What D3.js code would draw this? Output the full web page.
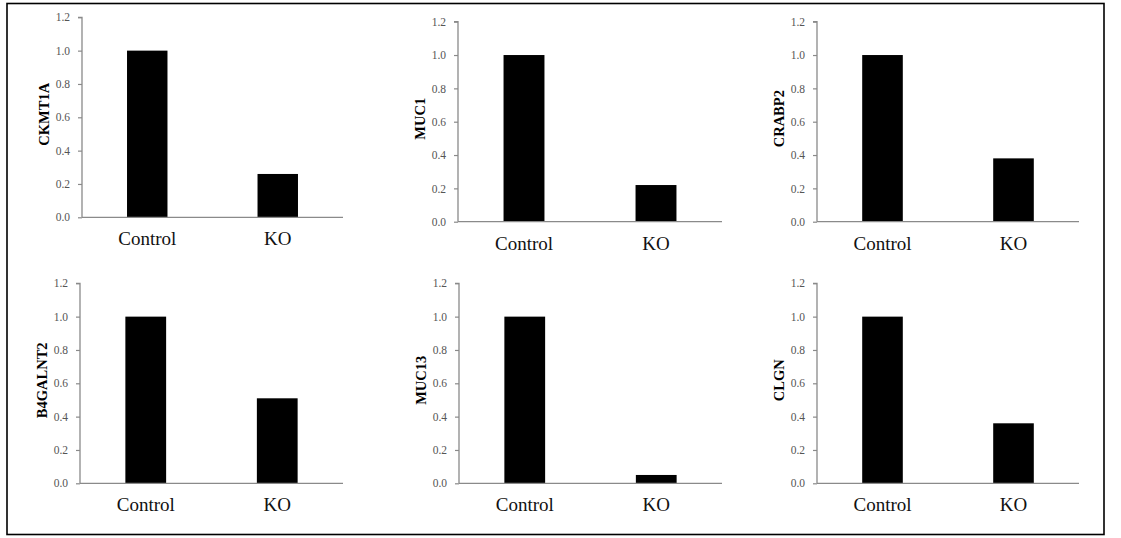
<!DOCTYPE html>
<html>
<head>
<meta charset="utf-8">
<script src="https://cdn.jsdelivr.net/npm/d3@7"></script>
<style>
  html, body { margin: 0; padding: 0; background: #fff; }
  svg { display: block; }
</style>
</head>
<body>
<svg id="chart" width="1121" height="538"></svg>
<script>
// ---- data ----
const genes = ["CKMT1A", "MUC1", "CRABP2", "B4GALNT2", "MUC13", "CLGN"];
const categories = ["Control", "KO"];
const controlValues = [1.0, 1.0, 1.0, 1.0, 1.0, 1.0];
const koValues = [0.26, 0.22, 0.38, 0.51, 0.05, 0.36];
const yTicks = [0.0, 0.2, 0.4, 0.6, 0.8, 1.0, 1.2];

// ---- layout (pixel geometry of each small panel) ----
const panelLayout = [
  { axisX: 82,  right: 343,  top: 17.3,  base: 217.3 },
  { axisX: 458, right: 722,  top: 21.7,  base: 221.7 },
  { axisX: 817, right: 1079, top: 21.7,  base: 221.7 },
  { axisX: 80,  right: 343,  top: 283.3, base: 483.3 },
  { axisX: 459, right: 722,  top: 283.3, base: 483.3 },
  { axisX: 817, right: 1079, top: 283.3, base: 483.3 }
];

const svg = d3.select("#chart");

// outer frame
svg.append("rect")
  .attr("x", 7).attr("y", 3.5)
  .attr("width", 1097).attr("height", 531)
  .attr("fill", "none").attr("stroke", "#000").attr("stroke-width", 1.6);

const serif = "'Liberation Serif', 'Times New Roman', Times, serif";
const axisColor = "#8a8a8a";

genes.forEach((gene, i) => {
  const L = panelLayout[i];
  const values = [controlValues[i], koValues[i]];
  const g = svg.append("g");

  const y = d3.scaleLinear().domain([0, 1.2]).range([L.base, L.top]);
  const x = d3.scaleBand().domain(categories)
    .range([L.axisX, L.right])
    .paddingInner(0.69).paddingOuter(0.345);

  // bars
  g.selectAll("rect.bar")
    .data(categories.map((c, k) => ({ c, v: values[k] })))
    .join("rect")
    .attr("class", "bar")
    .attr("x", d => x(d.c))
    .attr("width", x.bandwidth())
    .attr("y", d => y(d.v))
    .attr("height", d => y(0) - y(d.v))
    .attr("fill", "#000");

  // y axis
  const yAxis = d3.axisLeft(y)
    .tickValues(yTicks)
    .tickFormat(d3.format(".1f"))
    .tickSize(4).tickPadding(8);
  const ya = g.append("g")
    .attr("transform", `translate(${L.axisX},0)`)
    .call(yAxis);
  ya.select(".domain").attr("stroke", axisColor).attr("stroke-width", 1.3)
    .attr("d", `M-4,${L.top}H0V${L.base}`);
  ya.selectAll(".tick line").attr("stroke", axisColor).attr("stroke-width", 1.2);
  ya.selectAll(".tick text")
    .attr("fill", "#555")
    .style("font-family", serif)
    .style("font-size", "11.5px");

  // x axis (line only)
  const xAxis = d3.axisBottom(x).tickSize(0).tickPadding(0).tickFormat("");
  const xa = g.append("g")
    .attr("transform", `translate(0,${L.base})`)
    .call(xAxis);
  xa.select(".domain").attr("stroke", axisColor).attr("stroke-width", 1.3)
    .attr("d", `M${L.axisX},0H${L.right}`);
  xa.selectAll(".tick text").remove();

  // category labels
  g.selectAll("text.cat")
    .data(categories)
    .join("text")
    .attr("class", "cat")
    .attr("x", d => x(d) + x.bandwidth() / 2)
    .attr("y", L.base + 28)
    .attr("text-anchor", "middle")
    .style("font-family", serif)
    .style("font-size", "19px")
    .attr("fill", "#111")
    .text(d => d);

  // y title
  const cy = (L.top + L.base) / 2 - 3;
  g.append("text")
    .attr("transform", `translate(${L.axisX - 38},${cy}) rotate(-90)`)
    .attr("text-anchor", "middle")
    .attr("dominant-baseline", "central")
    .style("font-family", serif)
    .style("font-size", "14.5px")
    .style("font-weight", "bold")
    .attr("fill", "#000")
    .text(gene);
});
</script>
</body>
</html>
